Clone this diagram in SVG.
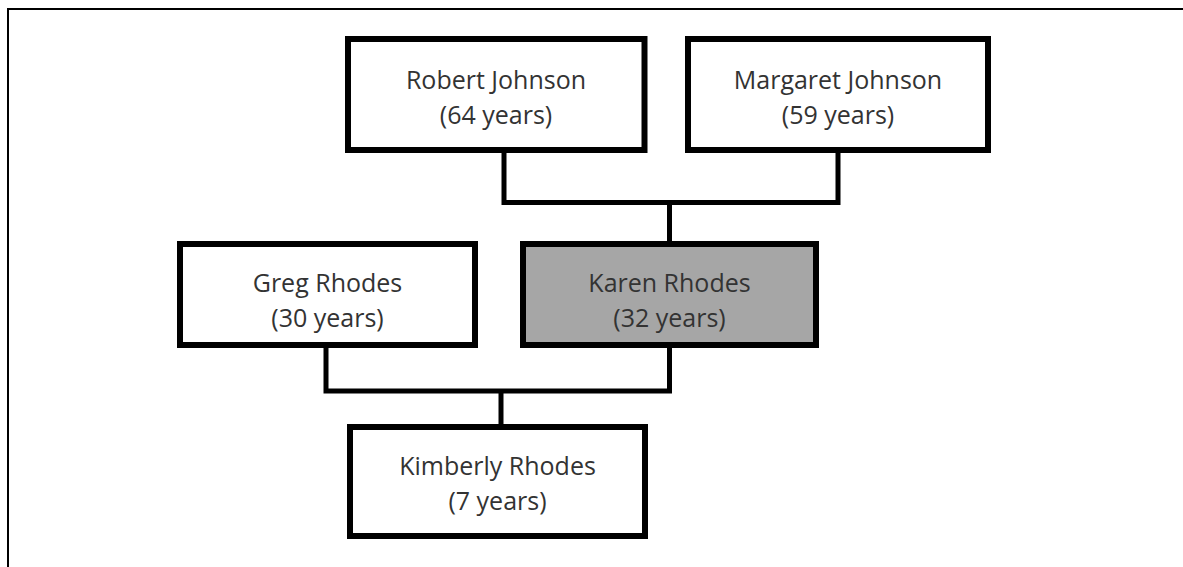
<svg xmlns="http://www.w3.org/2000/svg" width="1183" height="567" viewBox="0 0 1183 567">
<style>
.box{fill:#ffffff;stroke:#000000;stroke-width:6;stroke-linejoin:miter}
.sel{fill:#a6a6a6}
.lbl{font-family:"Open Sans","Liberation Sans",sans-serif;font-size:25px;fill:#333333;text-anchor:middle}
.con{fill:none;stroke:#000000;stroke-width:5;stroke-linejoin:miter}
.frame{fill:none;stroke:#000000;stroke-width:2}
</style>
<path class="frame" d="M8,567 V9 H1183"/>
<g id="connectors">
<path class="con" d="M504,150 V202.5 H838 V150"/>
<path class="con" d="M669.5,202.5 V244"/>
<path class="con" d="M326,345 V391 H669.5 V345"/>
<path class="con" d="M501,391 V427"/>
</g>
<g id="robert">
<rect class="box" x="348" y="39" width="296.5" height="111"/>
<text class="lbl" x="496" y="89">Robert Johnson</text>
<text class="lbl" x="496" y="124">(64 years)</text>
</g>
<g id="margaret">
<rect class="box" x="688" y="39" width="300" height="111"/>
<text class="lbl" x="838" y="89">Margaret Johnson</text>
<text class="lbl" x="838" y="124">(59 years)</text>
</g>
<g id="greg">
<rect class="box" x="180" y="244" width="295" height="101"/>
<text class="lbl" x="327.5" y="292">Greg Rhodes</text>
<text class="lbl" x="327.5" y="327">(30 years)</text>
</g>
<g id="karen">
<rect class="box sel" x="523" y="244" width="293" height="101"/>
<text class="lbl" x="669.5" y="292">Karen Rhodes</text>
<text class="lbl" x="669.5" y="327">(32 years)</text>
</g>
<g id="kimberly">
<rect class="box" x="350" y="427" width="295" height="109"/>
<text class="lbl" x="497.5" y="475">Kimberly Rhodes</text>
<text class="lbl" x="497.5" y="510">(7 years)</text>
</g>
</svg>
